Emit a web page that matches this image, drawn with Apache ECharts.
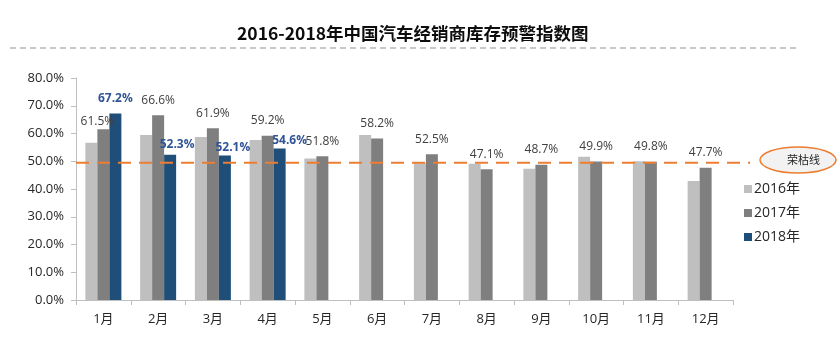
<!DOCTYPE html>
<html><head><meta charset="utf-8">
<script src="https://cdn.jsdelivr.net/npm/echarts@6/dist/echarts.min.js"></script>
<style>html,body{margin:0;padding:0;background:#fff}#c{width:840px;height:359px}</style>
</head><body><div id="c"></div>
<script>
var months = ['1月','2月','3月','4月','5月','6月','7月','8月','9月','10月','11月','12月'];
var seriesNames = ['2016年','2017年','2018年'];
var v2016 = [56.7, 59.5, 58.7, 57.7, 51.0, 59.5, 49.3, 49.1, 47.3, 51.6, 50.0, 42.9];
var v2017 = [61.5, 66.6, 61.9, 59.2, 51.8, 58.2, 52.5, 47.1, 48.7, 49.9, 49.8, 47.7];
var v2018 = [67.2, 52.3, 52.1, 54.6, null, null, null, null, null, null, null, null];
var honorLine = 49.5;
var honorName = '荣枯线';
var yTicks = [0, 10, 20, 30, 40, 50, 60, 70, 80];

var FONT = '"Open Sans","Noto Sans CJK SC",sans-serif';
var colors = ['#BFBFBF', '#7F7F7F', '#1F4E79'];
var lbl17Offset = {0: [-6, 7]};
var lbl18Offset = {1: [7, 5], 2: [8, 7], 3: [10, 7]};

function mk(vals, offs) {
  return vals.map(function (v, i) {
    if (offs && offs[i]) return {value: v, label: {offset: offs[i]}};
    return v;
  });
}

var chart = echarts.init(document.getElementById('c'), null, {renderer: 'canvas'});
chart.setOption({
  animation: false,
  color: colors,
  title: {
    text: '2016-2018年中国汽车经销商库存预警指数图',
    left: 232, top: 20,
    textStyle: {fontFamily: '"Noto Sans CJK SC",sans-serif', fontWeight: 'bold', fontSize: 17.5, color: '#0d0d0d'}
  },
  legend: {
    orient: 'vertical', left: 739, top: 177,
    icon: 'rect', itemWidth: 8, itemHeight: 8, itemGap: 10,
    data: seriesNames,
    textStyle: {fontFamily: FONT, fontSize: 14, color: '#262626', padding: [0, 0, 0, -3]}
  },
  grid: [
    {left: 76, right: 107, top: 78, bottom: 59, containLabel: false},
    {left: 76, right: 90, top: 78, bottom: 59, containLabel: false}
  ],
  xAxis: [
    {
      type: 'category', data: months, gridIndex: 0,
      axisLine: {lineStyle: {color: '#BFBFBF', width: 1}},
      axisTick: {show: true, length: 5, lineStyle: {color: '#BFBFBF'}},
      axisLabel: {fontFamily: FONT, fontSize: 13, color: '#262626', margin: 13}
    },
    {type: 'value', gridIndex: 1, min: 0, max: 1, show: false}
  ],
  yAxis: [
    {
      type: 'value', gridIndex: 0, min: yTicks[0], max: yTicks[yTicks.length - 1], interval: 10,
      axisLine: {show: true, lineStyle: {color: '#BFBFBF', width: 1}},
      axisTick: {show: true, length: 5, lineStyle: {color: '#BFBFBF'}},
      splitLine: {show: false},
      axisLabel: {fontFamily: FONT, fontSize: 13, color: '#262626', margin: 12,
        formatter: function (v) { return v.toFixed(1) + '%'; }}
    },
    {type: 'value', gridIndex: 1, min: yTicks[0], max: yTicks[yTicks.length - 1], show: false}
  ],
  series: [
    {
      name: seriesNames[0], type: 'bar', data: v2016, barWidth: 12, barGap: '0%',
      itemStyle: {color: colors[0]}
    },
    {
      name: seriesNames[1], type: 'bar', data: mk(v2017, lbl17Offset), barWidth: 12, barGap: '0%',
      itemStyle: {color: colors[1]},
      label: {show: true, position: 'top', distance: 9, fontFamily: FONT, fontSize: 12, color: '#404040',
        formatter: function (p) { return p.value.toFixed(1) + '%'; }}
    },
    {
      name: seriesNames[2], type: 'bar', data: mk(v2018, lbl18Offset), barWidth: 12, barGap: '0%',
      itemStyle: {color: colors[2]},
      label: {show: true, position: 'top', distance: 9, fontFamily: FONT, fontSize: 12, fontWeight: 'bold', color: '#2F5597',
        formatter: function (p) { return p.value == null ? '' : p.value.toFixed(1) + '%'; }}
    },
    {
      name: honorName, type: 'line', xAxisIndex: 1, yAxisIndex: 1,
      data: [[0, honorLine], [1, honorLine]], symbol: 'none', silent: true,
      lineStyle: {color: '#ED7D31', width: 2, type: [13, 8]}
    }
  ],
  graphic: [
    {type: 'line', shape: {x1: 10, y1: 48, x2: 796, y2: 48}, silent: true,
      style: {stroke: '#C8C8C8', lineWidth: 2, lineDash: [6, 4]}},
    {type: 'ellipse', shape: {cx: 798, cy: 160, rx: 38, ry: 13}, silent: true,
      style: {fill: '#F2F2F2', stroke: '#ED7D31', lineWidth: 1.5}},
    {type: 'text', left: 787, top: 154, silent: true,
      style: {text: honorName, font: '11px "Noto Sans CJK SC",sans-serif', fill: '#262626'}}
  ]
});
</script></body></html>
